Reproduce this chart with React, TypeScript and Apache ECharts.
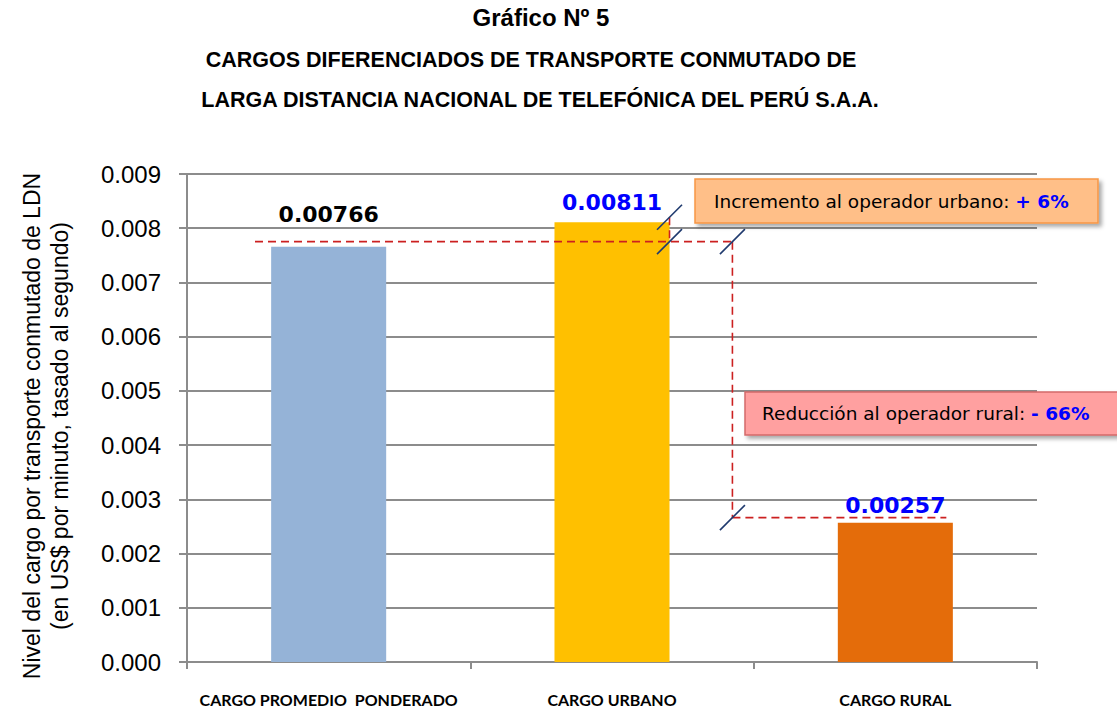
import React, { useEffect, useRef } from "react";
import * as echarts from "echarts";

const categories = ["CARGO PROMEDIO  PONDERADO", "CARGO URBANO", "CARGO RURAL"];
const values = [0.00766, 0.00811, 0.00257];
const yMin = 0;
const yMax = 0.009;
const yStep = 0.001;
const titleLines = [
  "Gráfico Nº 5",
  "CARGOS DIFERENCIADOS DE TRANSPORTE CONMUTADO DE",
  "LARGA DISTANCIA NACIONAL DE TELEFÓNICA DEL PERÚ S.A.A.",
];
const yAxisNameLines = [
  "Nivel del cargo por transporte conmutado de LDN",
  "(en US$ por minuto, tasado al segundo)",
];
const urbanNote = ["Incremento al operador urbano: ", "+ 6%"];
const ruralNote = ["Reducción al operador rural: ", "- 66%"];

const barColors = ["#95B3D7", "#FFC000", "#E46C0A"];
const labelColors = ["#000000", "#0000FF", "#0000FF"];
const labelDistances = [21, 9, 6];

export default function App() {
  const ref = useRef<HTMLDivElement>(null);
  useEffect(() => {
    if (!ref.current) return;
    const chart = echarts.init(ref.current, null, { renderer: "svg" });
    const axisGray = "#8C8C8C";
    const option: any = {
      animation: false,
      backgroundColor: "#FFFFFF",
      grid: { left: 187, right: 80, top: 174, bottom: 47, containLabel: false },
      xAxis: {
        type: "category",
        data: categories,
        axisLine: { show: true, lineStyle: { color: axisGray, width: 2 } },
        axisTick: { show: true, length: 7, interval: 0, lineStyle: { color: axisGray, width: 2 } },
        axisLabel: {
          interval: 0,
          margin: 29,
          color: "#000",
          fontFamily: "Lato",
          fontWeight: "bold",
          fontSize: 16,
        },
        splitLine: { show: false },
      },
      yAxis: {
        type: "value",
        min: yMin,
        max: yMax,
        interval: yStep,
        axisLine: { show: true, lineStyle: { color: axisGray, width: 2 } },
        axisTick: { show: true, length: 8, lineStyle: { color: axisGray, width: 2 } },
        axisLabel: {
          margin: 26,
          color: "#000",
          fontFamily: "Liberation Sans",
          fontSize: 24,
          formatter: (v: number) => v.toFixed(3),
        },
        splitLine: { show: true, lineStyle: { color: axisGray, width: 2 } },
      },
      series: [
        {
          type: "bar",
          barWidth: "40.6%",
          data: values.map((v, i) => ({
            value: v,
            itemStyle: { color: barColors[i] },
            label: { color: labelColors[i], distance: labelDistances[i] },
          })),
          label: {
            show: true,
            position: "top",
            fontFamily: "DejaVu Sans",
            fontWeight: "bold",
            fontSize: 22,
            formatter: (p: any) => Number(p.value).toFixed(5),
          },
        },
      ],
    };
    chart.setOption(option);

    const p = (i: number, v: number) => chart.convertToPixel({ gridIndex: 0 }, [i, v]) as number[];
    const a = p(0, values[0]);
    const b = p(1, values[1]);
    const c = p(2, values[2]);
    const band = b[0] - a[0];
    const half = (band * 0.406) / 2;
    const lift = 5;
    const y1 = a[1] - lift;
    const y2 = b[1] - lift;
    const y3 = c[1] - lift;
    const xStart = a[0] - 0.26 * band;
    const xEdge = b[0] + half;
    const xV = b[0] + 0.425 * band;
    const xEnd = c[0] + 0.18 * band;

    const dash = { stroke: "#CC2020", lineWidth: 1.6, lineDash: [8, 5] };
    const dl = (x1: number, yy1: number, x2: number, yy2: number) => ({
      type: "line",
      z: 50,
      shape: { x1, y1: yy1, x2, y2: yy2 },
      style: dash,
    });
    const slash = (cx: number, cy: number) => ({
      type: "line",
      z: 60,
      shape: { x1: cx - 12.5, y1: cy + 12.5, x2: cx + 12.5, y2: cy - 12.5 },
      style: { stroke: "#1F3A6E", lineWidth: 1.6 },
    });

    const titleText = (text: string, x: number, y: number, size: number) => ({
      type: "text",
      x,
      y,
      style: {
        text,
        fontFamily: "Liberation Sans",
        fontWeight: "bold",
        fontSize: size,
        fill: "#000",
        align: "center",
        verticalAlign: "middle",
      },
    });

    const note = (parts: string[], x: number, y: number) => ({
      type: "text",
      z: 71,
      x,
      y,
      style: {
        text: "{a|" + parts[0] + "}{b|" + parts[1] + "}",
        verticalAlign: "middle",
        align: "left",
        rich: {
          a: { fontFamily: "DejaVu Sans", fontSize: 18.5, fill: "#000" },
          b: { fontFamily: "DejaVu Sans", fontSize: 18.5, fontWeight: "bold", fill: "#0000FF" },
        },
      },
    });

    const graphic: any[] = [
      titleText(titleLines[0], 541, 17, 24),
      titleText(titleLines[1], 531, 60, 21.5),
      titleText(titleLines[2], 540, 100, 21.5),
      {
        type: "text",
        x: 46,
        y: 426,
        rotation: Math.PI / 2,
        style: {
          text: yAxisNameLines.join("\n"),
          fontFamily: "Liberation Sans",
          fontSize: 23,
          lineHeight: 28,
          fill: "#000",
          align: "center",
          verticalAlign: "middle",
        },
      },
      dl(xStart, y1, xV, y1),
      dl(xEdge, y2, xEdge, y1),
      dl(xV, y1, xV, y3),
      dl(xV, y3, xEnd, y3),
      slash(xEdge, y2),
      slash(xEdge, y1),
      slash(xV, y1),
      slash(xV, y3),
      {
        type: "rect",
        z: 70,
        shape: { x: 695, y: 179, width: 403, height: 44 },
        style: {
          fill: "#FFBF88",
          stroke: "#F79646",
          lineWidth: 1.5,
          shadowBlur: 4,
          shadowOffsetX: 3,
          shadowOffsetY: 3,
          shadowColor: "rgba(0,0,0,0.35)",
        },
      },
      note(urbanNote, 714, 201),
      {
        type: "rect",
        z: 70,
        shape: { x: 745, y: 392, width: 400, height: 43 },
        style: {
          fill: "#FFA0A0",
          stroke: "#D46A6A",
          lineWidth: 1.5,
          shadowBlur: 4,
          shadowOffsetX: 3,
          shadowOffsetY: 3,
          shadowColor: "rgba(0,0,0,0.35)",
        },
      },
      note(ruralNote, 762, 413),
    ];
    chart.setOption({ graphic });

    return () => chart.dispose();
  }, []);
  return (
    <div
      ref={ref}
      style={{ position: "absolute", left: 0, top: 0, width: 1117, height: 709, background: "#fff" }}
    />
  );
}
